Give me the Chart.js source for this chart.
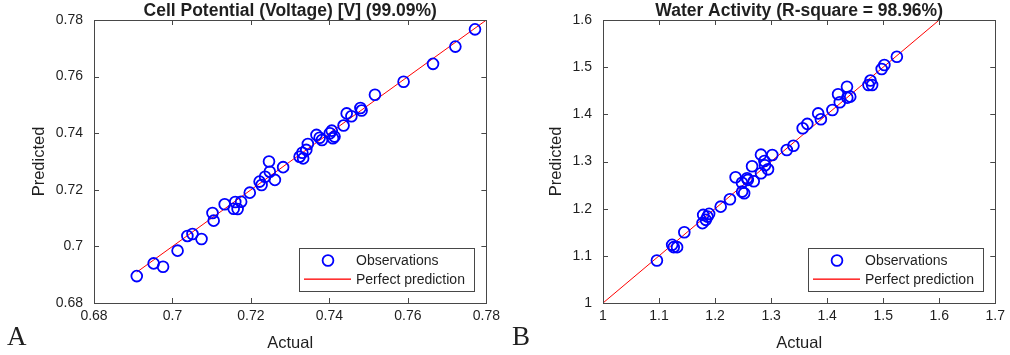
<!DOCTYPE html>
<html>
<head>
<meta charset="utf-8">
<script src="https://cdn.jsdelivr.net/npm/chart.js@4.4.1/dist/chart.umd.min.js"></script>
<style>
  html, body { margin: 0; padding: 0; background: #fff; }
  #wrap { position: relative; width: 1010px; height: 355px; }
  canvas { position: absolute; top: 0; }
  #chartA { left: 0; }
  #chartB { left: 505px; }
</style>
</head>
<body>
<div id="wrap">
  <canvas id="chartA" width="505" height="355"></canvas>
  <canvas id="chartB" width="505" height="355"></canvas>
</div>
<script>
// Panel A: cell potential
const actualA = [0.7771, 0.7721, 0.7664, 0.7589, 0.7516, 0.7479, 0.7482, 0.7456, 0.7444, 0.7436,
  0.7406, 0.7401, 0.7413, 0.7409, 0.7381, 0.7375, 0.7367, 0.7345, 0.7341, 0.7331, 0.7324, 0.7333,
  0.7282, 0.7246, 0.7248, 0.7236, 0.7261, 0.7222, 0.7227, 0.7197, 0.7133, 0.7160, 0.7175, 0.7156,
  0.7166, 0.7102, 0.7105, 0.7038, 0.7051, 0.7074, 0.7013, 0.6952, 0.6976, 0.6909];
const predictedA = [0.7767, 0.7706, 0.7645, 0.7582, 0.7536, 0.7489, 0.7480, 0.7460, 0.7470, 0.7427,
  0.7409, 0.7400, 0.7388, 0.7382, 0.7376, 0.7384, 0.7394, 0.7362, 0.7341, 0.7331, 0.7317, 0.7311,
  0.7280, 0.7300, 0.7264, 0.7246, 0.7235, 0.7229, 0.7217, 0.7190, 0.7149, 0.7157, 0.7158, 0.7133,
  0.7132, 0.7118, 0.7091, 0.7037, 0.7044, 0.7026, 0.6985, 0.6940, 0.6928, 0.6895];
const lineA = [0.6909, 0.78];
const ticksA = [0.68, 0.70, 0.72, 0.74, 0.76, 0.78];
const tickLabelsA = ["0.68", "0.7", "0.72", "0.74", "0.76", "0.78"];

// Panel B: water activity
const actualB = [1.5244, 1.5021, 1.4973, 1.4773, 1.4738, 1.4802, 1.4354, 1.4195, 1.4412, 1.4359,
  1.4225, 1.4094, 1.3840, 1.3888, 1.3646, 1.3563, 1.3398, 1.3280, 1.3021, 1.2819, 1.2660, 1.2880,
  1.2890, 1.2945, 1.2820, 1.2366, 1.2572, 1.2480, 1.2690, 1.2584, 1.2483, 1.2519, 1.2265, 1.2100,
  1.1788, 1.1864, 1.1894, 1.1835, 1.1775, 1.1451, 1.1234, 1.1262, 1.1322, 1.0962];
const predictedB = [1.5222, 1.5046, 1.4961, 1.4716, 1.4623, 1.4623, 1.4586, 1.4425, 1.4375, 1.4354,
  1.4256, 1.4092, 1.4020, 1.3896, 1.3797, 1.3705, 1.3335, 1.3244, 1.3138, 1.3145, 1.2900, 1.3010,
  1.2920, 1.2834, 1.2750, 1.2667, 1.2645, 1.2550, 1.2580, 1.2610, 1.2362, 1.2328, 1.2199, 1.2043,
  1.1868, 1.1832, 1.1890, 1.1763, 1.1693, 1.1501, 1.1233, 1.1184, 1.1184, 1.0900];
const lineB = [1.0, 1.6];
const xTicksB = [1.0, 1.1, 1.2, 1.3, 1.4, 1.5, 1.6, 1.7];
const xTickLabelsB = ["1", "1.1", "1.2", "1.3", "1.4", "1.5", "1.6", "1.7"];
const yTicksB = [1.0, 1.1, 1.2, 1.3, 1.4, 1.5, 1.6];
const yTickLabelsB = ["1", "1.1", "1.2", "1.3", "1.4", "1.5", "1.6"];

const FONT = 'Arial, "Liberation Sans", Helvetica, sans-serif';
const TEXT = "#1f1f1f";
const AXIS = "#474747";
const BLUE = "#0000ff";
const RED = "#ff0000";

// frame with inward ticks, title, in-plot legend and panel letter (MATLAB look)
const panelPlugin = {
  id: "panel",
  afterDraw(chart, args, opts) {
    const ctx = chart.ctx;
    const ca = chart.chartArea;
    const xs = chart.scales.x, ys = chart.scales.y;
    ctx.save();
    ctx.strokeStyle = AXIS;
    ctx.lineWidth = 1;
    ctx.beginPath();
    xs.ticks.forEach((t) => {
      const px = Math.round(xs.getPixelForValue(t.value)) + 0.5;
      ctx.moveTo(px, ca.bottom); ctx.lineTo(px, ca.bottom - 5);
      ctx.moveTo(px, ca.top); ctx.lineTo(px, ca.top + 5);
    });
    ys.ticks.forEach((t) => {
      const py = Math.round(ys.getPixelForValue(t.value)) + 0.5;
      ctx.moveTo(ca.left, py); ctx.lineTo(ca.left + 5, py);
      ctx.moveTo(ca.right, py); ctx.lineTo(ca.right - 5, py);
    });
    ctx.stroke();
    ctx.strokeRect(Math.round(ca.left) + 0.5, Math.round(ca.top) + 0.5,
      Math.round(ca.right - ca.left), Math.round(ca.bottom - ca.top));

    // title
    ctx.fillStyle = TEXT;
    ctx.font = "bold 17.5px " + FONT;
    ctx.textAlign = "center";
    ctx.textBaseline = "middle";
    ctx.fillText(opts.title, (ca.left + ca.right) / 2, 11);

    // legend box
    const w = 175, h = 43;
    const bx = Math.round(ca.right - 12 - w), by = Math.round(ca.bottom - 12 - h);
    ctx.fillStyle = "#fff";
    ctx.fillRect(bx, by, w, h);
    ctx.strokeStyle = AXIS;
    ctx.lineWidth = 1;
    ctx.strokeRect(bx + 0.5, by + 0.5, w, h);
    const ds = chart.data.datasets;
    ctx.beginPath();
    ctx.arc(bx + 29, by + 12.5, 5.4, 0, 2 * Math.PI);
    ctx.strokeStyle = BLUE;
    ctx.lineWidth = 1.8;
    ctx.stroke();
    // red sample line
    ctx.fillStyle = RED;
    ctx.fillRect(bx + 5, by + 30.5, 47, 1.3);
    ctx.fillStyle = TEXT;
    ctx.font = "14px " + FONT;
    ctx.textAlign = "left";
    ctx.fillText(ds[0].label, bx + 57, by + 13);
    ctx.fillText(ds[1].label, bx + 57, by + 32);

    // panel letter
    ctx.font = '27px "Liberation Serif", "Times New Roman", serif';
    ctx.textBaseline = "alphabetic";
    ctx.fillText(opts.letter, 7, 345);
    ctx.restore();
  },
};

function axis(min, max, vals, labels, title) {
  return {
    type: "linear",
    min: min,
    max: max,
    grid: { display: false, drawTicks: false },
    border: { display: false },
    afterBuildTicks: (scale) => { scale.ticks = vals.map((v) => ({ value: v })); },
    ticks: {
      color: TEXT,
      font: { family: FONT, size: 14 },
      maxRotation: 0,
      autoSkip: false,
      callback: (v, i) => labels[i],
    },
    title: { display: true, text: title, color: TEXT, font: { family: FONT, size: 16.5 } },
  };
}

function makeChart(id, actual, predicted, line, xAxis, yAxis, padL, padR, yWidth, title, letter) {
  const ctx = document.getElementById(id).getContext("2d");
  return new Chart(ctx, {
    type: "scatter",
    data: {
      datasets: [
        {
          label: "Observations",
          data: actual.map((a, i) => ({ x: a, y: predicted[i] })),
          pointStyle: "circle",
          pointRadius: 5.4,
          pointBorderWidth: 1.8,
          borderColor: BLUE,
          backgroundColor: "rgba(0,0,0,0)",
        },
        {
          label: "Perfect prediction",
          type: "line",
          data: line.map((v) => ({ x: v, y: v })),
          showLine: true,
          borderColor: RED,
          borderWidth: 1,
          pointRadius: 0,
          fill: false,
        },
      ],
    },
    options: {
      responsive: false,
      animation: false,
      devicePixelRatio: 1,
      events: [],
      layout: { padding: { left: padL, right: padR, top: 20, bottom: 0 } },
      scales: {
        x: Object.assign(xAxis, { afterFit: (s) => { s.height = 52; } }),
        y: Object.assign(yAxis, { afterFit: (s) => { s.width = yWidth; } }),
      },
      plugins: {
        legend: { display: false },
        tooltip: { enabled: false },
        panel: { title: title, letter: letter },
      },
    },
    plugins: [panelPlugin],
  });
}

const xA = axis(0.68, 0.78, ticksA, tickLabelsA, "Actual");
xA.ticks.padding = 5;
xA.title.padding = { top: 0, bottom: 2 };
const yA = axis(0.68, 0.78, ticksA, tickLabelsA, "Predicted");
yA.ticks.padding = 11;
makeChart("chartA", actualA, predictedA, lineA, xA, yA, 26, 18, 68,
  "Cell Potential (Voltage) [V] (99.09%)", "A");

const xB = axis(1.0, 1.7, xTicksB, xTickLabelsB, "Actual");
xB.ticks.padding = 5;
xB.title.padding = { top: 0, bottom: 2 };
const yB = axis(1.0, 1.6, yTicksB, yTickLabelsB, "Predicted");
yB.ticks.padding = 11;
makeChart("chartB", actualB, predictedB, lineB, xB, yB, 38, 8, 60,
  "Water Activity (R-square = 98.96%)", "B");
</script>
</body>
</html>
